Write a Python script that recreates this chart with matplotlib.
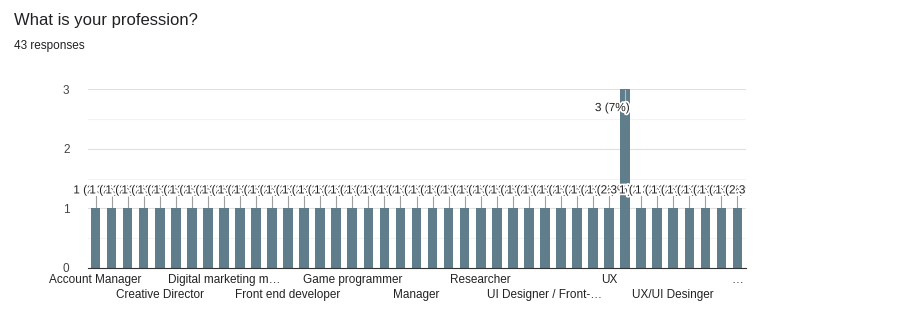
import matplotlib.pyplot as plt
import matplotlib.patheffects as pe
from matplotlib.transforms import Bbox

plt.rcParams['font.family'] = ['Liberation Sans', 'DejaVu Sans']

# one count per profession (41 answers shown in the chart)
counts = [1, 1, 1, 1, 1, 1, 1, 1, 1, 1,
          1, 1, 1, 1, 1, 1, 1, 1, 1, 1,
          1, 1, 1, 1, 1, 1, 1, 1, 1, 1,
          1, 1, 1, 3, 1, 1, 1, 1, 1, 1,
          1]
pct_labels = ['1 (2.3%)'] * 33 + ['3 (7%)'] + ['1 (2.3%)'] * 7

# only every 4th category name is printed on the axis
tick_pos = [0, 4, 8, 12, 16, 20, 24, 28, 32, 36, 40]
tick_names = ['Account Manager', 'Creative Director', 'Digital marketing m\u2026',
              'Front end developer', 'Game programmer', 'Manager', 'Researcher',
              'UI Designer / Front-\u2026', 'UX', 'UX/UI Desinger', '\u2026']

fig = plt.figure(figsize=(9, 3.34), dpi=100)
ax = fig.add_axes([87.5 / 900, 1 - 268 / 334, 658 / 900, 179 / 334])

x = list(range(len(counts)))
ax.bar(x, counts, width=0.6, color='#607d8b', zorder=2)

ax.set_xlim(-0.5, len(counts) - 0.5)
ax.set_ylim(0, 3)
ax.set_yticks([0, 1, 2, 3])
ax.set_yticks([0.5, 1.5, 2.5], minor=True)
ax.grid(axis='y', which='major', color='#e0e0e0', lw=0.8, zorder=0)
ax.grid(axis='y', which='minor', color='#f3f3f3', lw=0.8, zorder=0)
ax.tick_params(axis='y', which='both', length=0, labelsize=8.5, labelcolor='#444444', pad=13)
for s in ['top', 'right', 'left']:
    ax.spines[s].set_visible(False)
ax.spines['bottom'].set_color('#333333')

ax.set_xticks(tick_pos)
ax.set_xticklabels([('\n' + n) if i % 2 else n for i, n in enumerate(tick_names)],
                   fontsize=8.5, color='#222222', linespacing=1.35)
ax.tick_params(axis='x', length=0, pad=4)

# labels run past the left edge but are cut at the right edge of the plot area
clip = Bbox([[0, 0], [745.5, 334]])

halo = [pe.withStroke(linewidth=2.5, foreground='white')]
for i, (c, lab) in enumerate(zip(counts, pct_labels)):
    if c == 1:
        ax.plot([i, i], [c + 0.02, c + 0.2], color='#9e9e9e', lw=0.8, zorder=3)
        t = ax.text(i, 1.3, lab, ha='center', va='center', fontsize=8.5,
                    color='#222222', path_effects=halo, zorder=4)
    else:
        ax.plot([i, i], [c - 0.01, c - 0.2], color='#b0bec5', lw=0.8, zorder=3)
        t = ax.text(i - 0.8, c - 0.32, lab, ha='center', va='center', fontsize=8.5,
                    color='#222222', path_effects=halo, zorder=4)
    t.set_clip_box(clip)
    t.set_clip_on(True)

fig.text(14 / 900, 1 - 20 / 334, 'What is your profession?', fontsize=12,
         color='#202124', va='center')
fig.text(14 / 900, 1 - 46 / 334, '43 responses', fontsize=8.5, color='#202124', va='center')

fig.savefig('out.png', dpi=100)
